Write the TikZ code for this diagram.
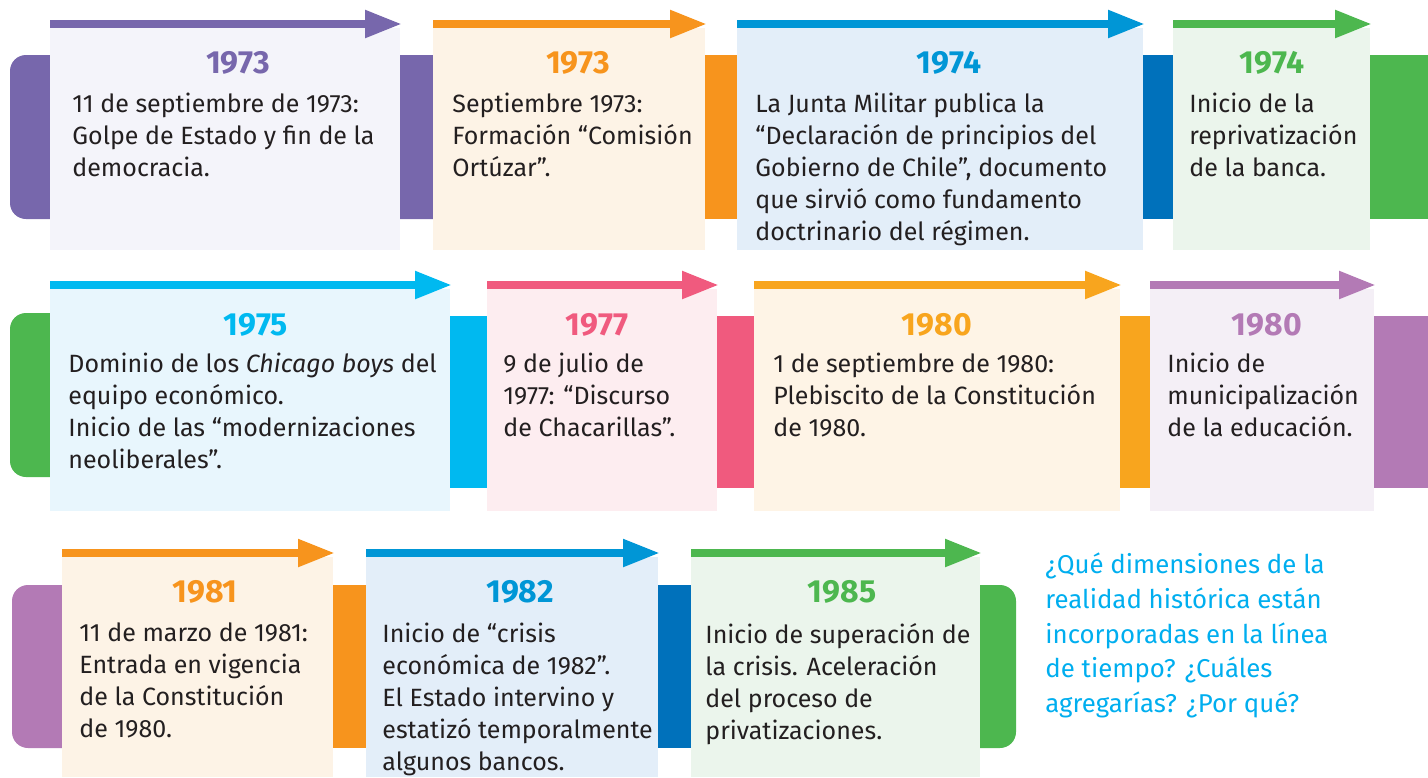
\documentclass[tikz,border=0pt]{standalone}
\usepackage{fontspec}
\setmainfont{Fira Sans}
\usetikzlibrary{arrows.meta, positioning}
\definecolor{violeta}{HTML}{7767AC}
\definecolor{violetafill}{HTML}{F4F4FA}
\definecolor{naranja}{HTML}{F7941D}
\definecolor{naranjafill}{HTML}{FDF3E6}
\definecolor{azul}{HTML}{0096D6}
\definecolor{azuloscuro}{HTML}{0071BB}
\definecolor{azulfill}{HTML}{E3EEF9}
\definecolor{verde}{HTML}{4DB74F}
\definecolor{verdefill}{HTML}{EBF5EC}
\definecolor{celeste}{HTML}{00B9F0}
\definecolor{celestefill}{HTML}{E8F6FD}
\definecolor{rosa}{HTML}{F05A7E}
\definecolor{rosafill}{HTML}{FDEDF0}
\definecolor{amarillo}{HTML}{F8A51E}
\definecolor{amarillofill}{HTML}{FEF4E6}
\definecolor{lila}{HTML}{B37AB5}
\definecolor{lilafill}{HTML}{F4EFF6}
\definecolor{pregunta}{HTML}{00AEEF}
\definecolor{texto}{HTML}{231F20}

\begin{document}
\begin{tikzpicture}[x=0.5pt, y=-0.5pt,
    card/.style={anchor=north west, inner sep=0pt, outer sep=0pt},
    year/.style={anchor=base, font=\fontsize{16}{18}\selectfont\bfseries},
    body/.style={anchor=north west, inner sep=0pt, align=left, text=texto,
                 font=\fontsize{12.5}{16}\selectfont, execute at begin node=\strut},
    timeline/.style={-{Triangle[length=18.5pt, width=13pt]}, line width=4pt}
]
    \useasboundingbox (0,0) rectangle (1428,777);

    % Bands, row 1
    \fill[violeta, rounded corners=8pt] (10,55) rectangle (450,219);
    \fill[naranja] (690,55) rectangle (750,219);
    \fill[azuloscuro] (1130,55) rectangle (1190,219);
    \fill[verde] (1350,55) rectangle (1428,219);
    % Bands, row 2
    \fill[verde, rounded corners=8pt] (10,313) rectangle (70,477);
    \fill[celeste] (440,316) rectangle (500,488);
    \fill[rosa] (700,316) rectangle (770,488);
    \fill[amarillo] (1100,316) rectangle (1165,488);
    \fill[lila] (1360,316) rectangle (1428,488);
    % Bands, row 3
    \fill[lila, rounded corners=8pt] (12,585) rectangle (80,748);
    \fill[naranja] (320,585) rectangle (380,748);
    \fill[azuloscuro] (645,585) rectangle (705,748);
    \fill[verde, rounded corners=8pt] (960,585) rectangle (1016,748);

    % Cards, row 1
    \node[card, fill=violetafill, minimum width=175pt, minimum height=111pt] (c1973a) at (50,28) {};
    \node[card, fill=naranjafill, minimum width=136pt, minimum height=111pt] (c1973b) at (433,28) {};
    \node[card, fill=azulfill, minimum width=203pt, minimum height=111pt] (c1974a) at (737,28) {};
    \node[card, fill=verdefill, minimum width=98.5pt, minimum height=111pt] (c1974b) at (1173,28) {};
    % Cards, row 2
    \node[card, fill=celestefill, minimum width=200pt, minimum height=111pt] (c1975) at (50,289) {};
    \node[card, fill=rosafill, minimum width=115pt, minimum height=111pt] (c1977) at (487,289) {};
    \node[card, fill=amarillofill, minimum width=183pt, minimum height=111pt] (c1980a) at (754,289) {};
    \node[card, fill=lilafill, minimum width=112pt, minimum height=111pt] (c1980b) at (1150,289) {};
    % Cards, row 3
    \node[card, fill=naranjafill, minimum width=135.5pt, minimum height=110pt] (c1981) at (62,557) {};
    \node[card, fill=azulfill, minimum width=146pt, minimum height=110pt] (c1982) at (366,557) {};
    \node[card, fill=verdefill, minimum width=144.5pt, minimum height=110pt] (c1985) at (691,557) {};

    % Arrows on top of the cards
    \draw[timeline, violeta] ([yshift=2pt]c1973a.north west) -- ([shift={(1pt,2pt)}]c1973a.north east);
    \draw[timeline, naranja] ([yshift=2pt]c1973b.north west) -- ([shift={(1pt,2pt)}]c1973b.north east);
    \draw[timeline, azul] ([yshift=2pt]c1974a.north west) -- ([shift={(1pt,2pt)}]c1974a.north east);
    \draw[timeline, verde] ([yshift=2pt]c1974b.north west) -- ([shift={(1pt,2pt)}]c1974b.north east);
    \draw[timeline, celeste] ([yshift=2pt]c1975.north west) -- ([shift={(1pt,2pt)}]c1975.north east);
    \draw[timeline, rosa] ([yshift=2pt]c1977.north west) -- ([shift={(1pt,2pt)}]c1977.north east);
    \draw[timeline, amarillo] ([yshift=2pt]c1980a.north west) -- ([shift={(1pt,2pt)}]c1980a.north east);
    \draw[timeline, lila] ([yshift=2pt]c1980b.north west) -- ([shift={(1pt,2pt)}]c1980b.north east);
    \draw[timeline, naranja] ([yshift=2pt]c1981.north west) -- ([shift={(1pt,2pt)}]c1981.north east);
    \draw[timeline, azul] ([yshift=2pt]c1982.north west) -- ([shift={(1pt,2pt)}]c1982.north east);
    \draw[timeline, verde] ([yshift=2pt]c1985.north west) -- ([shift={(1pt,2pt)}]c1985.north east);

    % Years
    \node[year, text=violeta] (y1973a) at (238,73) {1973};
    \node[year, text=naranja] (y1973b) at (578,73) {1973};
    \node[year, text=azul] (y1974a) at (949,73) {1974};
    \node[year, text=verde] (y1974b) at (1272,73) {1974};
    \node[year, text=celeste] (y1975) at (256,335) {1975};
    \node[year, text=rosa] (y1977) at (597,335) {1977};
    \node[year, text=amarillo] (y1980a) at (937,335) {1980};
    \node[year, text=lila] (y1980b) at (1267,335) {1980};
    \node[year, text=naranja] (y1981) at (205,602) {1981};
    \node[year, text=azul] (y1982) at (520,602) {1982};
    \node[year, text=verde] (y1985) at (842,602) {1985};

    % Texts
    \node[body] (t1973a) at (72,92.6) {11 de septiembre de 1973:\\Golpe de Estado y fin de la\\democracia.};
    \node[body] (t1973b) at (452,92.6) {Septiembre 1973:\\Formación “Comisión\\Ortúzar”.};
    \node[body] (t1974a) at (755,92.6) {La Junta Militar publica la\\“Declaración de principios del\\Gobierno de Chile”, documento\\que sirvió como fundamento\\doctrinario del régimen.};
    \node[body] (t1974b) at (1189,92.6) {Inicio de la\\reprivatización\\de la banca.};
    \node[body] (t1975) at (68,352.6) {Dominio de los \textit{Chicago boys} del\\equipo económico.\\Inicio de las “modernizaciones\\neoliberales”.};
    \node[body] (t1977) at (503,352.6) {9 de julio de\\1977: “Discurso\\de Chacarillas”.};
    \node[body] (t1980a) at (773,352.6) {1 de septiembre de 1980:\\Plebiscito de la Constitución\\de 1980.};
    \node[body] (t1980b) at (1167,352.6) {Inicio de\\municipalización\\de la educación.};
    \node[body] (t1981) at (79,622.6) {11 de marzo de 1981:\\Entrada en vigencia\\de la Constitución\\de 1980.};
    \node[body] (t1982) at (382,622.6) {Inicio de “crisis\\económica de 1982”.\\El Estado intervino y\\estatizó temporalmente\\algunos bancos.};
    \node[body] (t1985) at (705,622.6) {Inicio de superación de\\la crisis. Aceleración\\del proceso de\\privatizaciones.};

    % Question
    \node[body, text=pregunta, font=\fontsize{12.9}{17.35}\selectfont] (pregunta) at (1045,552.7)
        {¿Qué dimensiones de la\\realidad histórica están\\incorporadas en la línea\\de tiempo? ¿Cuáles\\agregarías? ¿Por qué?};
\end{tikzpicture}
\end{document}
